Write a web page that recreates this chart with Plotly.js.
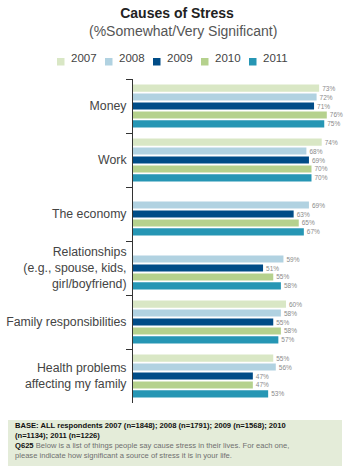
<!DOCTYPE html>
<html>
<head>
<meta charset="utf-8">
<script src="https://cdn.plot.ly/plotly-3.0.1.min.js"></script>
<style>
  html, body { margin: 0; padding: 0; background: #ffffff; }
  #chart { width: 350px; height: 470px; }
</style>
</head>
<body>
<div id="chart"></div>
<script>
// ---- Data ----
const categories = [
  "Money",
  "Work",
  "The economy",
  "Relationships<br>(e.g., spouse, kids,<br>girl/boyfriend)",
  "Family responsibilities",
  "Health problems<br>affecting my family"
];
const years = ["2007", "2008", "2009", "2010", "2011"];
const values2007 = [73, 74, null, null, 60, 55];
const values2008 = [72, 68, 69, 59, 58, 56];
const values2009 = [71, 69, 63, 51, 55, 47];
const values2010 = [76, 70, 65, 55, 58, 47];
const values2011 = [75, 70, 67, 58, 57, 53];
const seriesValues = [values2007, values2008, values2009, values2010, values2011];
const colors = ["#d9e7c5", "#b1d2e1", "#004c87", "#b5d18d", "#2696b4"];

// ---- Layout helpers (pixel -> paper) ----
const W = 350, H = 470;
const M = { l: 133, r: 0, t: 79, b: 67 };
const pw = W - M.l - M.r, ph = H - M.t - M.b;
const px = x => (x - M.l) / pw;
const py = y => (H - M.b - y) / ph;

const traces = seriesValues.map((vals, i) => ({
  type: "bar",
  orientation: "h",
  name: years[i],
  y: categories,
  x: vals,
  marker: { color: colors[i], line: { width: 0 } },
  text: vals.map(v => v == null ? "" : v + "%"),
  textposition: "outside",
  textfont: { size: 6.5, color: "#8a8a8a", family: "Liberation Sans, Arial, sans-serif" },
  cliponaxis: false,
  hoverinfo: "x+name",
  showlegend: false
}));

// custom compact legend (swatch + label per year)
const legendShapes = years.map((yr, i) => ({
  type: "rect", xref: "paper", yref: "paper",
  x0: px(57 + 48 * i), x1: px(64.5 + 48 * i),
  y0: py(65.5), y1: py(58),
  fillcolor: colors[i], line: { width: 0 }
}));
const legendLabels = years.map((yr, i) => ({
  text: yr, xref: "paper", yref: "paper",
  x: px(69 + 48 * i), y: py(57.5), xanchor: "left", yanchor: "middle",
  showarrow: false,
  font: { size: 11.5, color: "#444" }
}));

const layout = {
  width: W, height: H,
  margin: M,
  paper_bgcolor: "#ffffff",
  plot_bgcolor: "#ffffff",
  font: { family: "Liberation Sans, Arial, sans-serif", color: "#444" },
  barmode: "group",
  bargap: 0.17,
  bargroupgap: 0.2,
  showlegend: false,
  title: {
    text: "<b>Causes of Stress</b>",
    font: { family: "Liberation Sans, Arial, sans-serif", size: 14, color: "#222" },
    x: 177 / W, xanchor: "center",
    y: 1 - 13 / H, yanchor: "middle"
  },
  xaxis: {
    range: [0, pw / 2.55],
    visible: false,
    fixedrange: true
  },
  yaxis: {
    autorange: "reversed",
    type: "category",
    showline: true, linecolor: "#333", linewidth: 1,
    ticks: "outside", tickson: "boundaries", ticklen: 6, tickcolor: "#333", tickwidth: 1,
    ticklabelstandoff: 3,
    tickfont: { size: 12.3, color: "#444" },
    showgrid: false, zeroline: false,
    fixedrange: true
  },
  annotations: [
    {
      text: "(%Somewhat/Very Significant)",
      xref: "paper", yref: "paper",
      x: px(183), y: py(31), xanchor: "center", yanchor: "middle",
      showarrow: false,
      font: { size: 14, color: "#555" }
    },
    {
      text: "<b>BASE: ALL respondents 2007 (n=1848); 2008 (n=1791); 2009 (n=1568); 2010</b><br>" +
            "<b>(n=1134); 2011 (n=1226)</b><br>" +
            "<b>Q625</b> <span style='color:#6f6f6f'>Below is a list of things people say cause stress in their lives. For each one,</span><br>" +
            "<span style='color:#6f6f6f'>please indicate how significant a source of stress it is in your life.</span>",
      xref: "paper", yref: "paper",
      x: px(13), y: py(419), xanchor: "left", yanchor: "top",
      align: "left",
      showarrow: false,
      font: { size: 7.6, color: "#111" }
    }
  ].concat(legendLabels),
  shapes: [
    {
      type: "rect", xref: "paper", yref: "paper",
      x0: px(8), x1: px(342), y0: py(420), y1: py(466),
      fillcolor: "#e4ecd9", line: { width: 0 }, layer: "below"
    }
  ].concat(legendShapes)
};

Plotly.newPlot("chart", traces, layout, { displayModeBar: false, staticPlot: true });
</script>
</body>
</html>
